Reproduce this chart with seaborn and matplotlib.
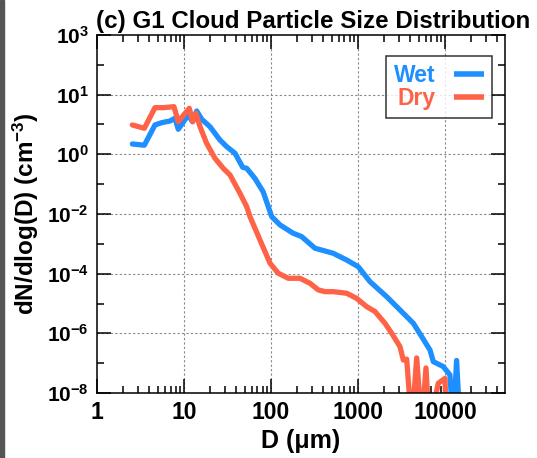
import numpy as np
import pandas as pd
import seaborn as sns
import matplotlib.pyplot as plt
from matplotlib.patches import Rectangle

# wet-case cloud particle size distribution (G1)
wet_d = [2.55, 3.5, 4.64, 5.54, 6.9, 7.88, 8.6, 11.2, 12.5, 14.0, 16.0, 19.9, 25.9,
         31.0, 38.6, 47.3, 52.6, 65.5, 81.5, 102, 127, 180, 225, 321, 418, 520, 741,
         1007, 1374, 2138, 3041, 4325, 5400, 6725, 7350, 9550, 11400, 12450, 13600, 14900]
wet_n = [0.448, 0.41, 1.72, 2.02, 2.28, 2.76, 1.27, 3.48, 2.17, 4.62, 2.57, 1.52, 0.594,
         0.37, 0.232, 0.086, 0.08, 0.039, 0.015, 2.62e-3, 1.46e-3, 8.1e-4, 6.4e-4, 2.8e-4,
         2.31e-4, 1.96e-4, 1.22e-4, 7.6e-5, 2.64e-5, 9.1e-6, 3.56e-6, 1.39e-6, 5.4e-7,
         2.1e-7, 9.2e-8, 6.5e-8, 3.6e-8, 1e-9, 1.0e-7, 1e-9]

# dry-case
dry_d = [2.55, 3.5, 4.64, 5.78, 7.67, 8.6, 11.5, 12.6, 13.7, 15.3, 18.2, 22.7, 28.3,
         33.8, 44.0, 52.6, 57.4, 74.8, 97.5, 121, 158, 215, 281, 350, 418, 520, 741,
         965, 1258, 1567, 2042, 2438, 3041, 3320, 3630, 4140, 4730, 5400, 6050, 6600,
         8380, 10000, 10450]
dry_n = [1.72, 1.36, 5.85, 5.85, 6.27, 2.17, 5.6, 2.17, 3.93, 1.52, 0.47, 0.163, 0.080,
         0.05, 0.0137, 5.3e-3, 2.62e-3, 5.0e-4, 9.7e-5, 4.8e-5, 3.35e-5, 3.35e-5, 2.35e-5,
         1.47e-5, 1.3e-5, 1.3e-5, 1.16e-5, 8.1e-6, 4.5e-6, 3.2e-6, 1.39e-6, 6.9e-7, 2.65e-7,
         1.03e-7, 1.1e-7, 1e-9, 1.2e-7, 1e-9, 5.9e-8, 1e-9, 2.0e-8, 2.8e-8, 1e-9]

# IDL-style log axis: 6 intervals over 11 decades, labels truncated
ytick_labels = ['3', '1', '0', '-2', '-4', '-6', '-8']
xtick_vals = [1, 10, 100, 1000, 10000]

df = pd.concat([
    pd.DataFrame({'D': wet_d, 'N': wet_n, 'case': 'Wet'}),
    pd.DataFrame({'D': dry_d, 'N': dry_n, 'case': 'Dry'}),
])

sns.set_style('ticks')
plt.rcParams['font.family'] = ['Liberation Sans', 'DejaVu Sans']
plt.rcParams['font.weight'] = 'bold'
plt.rcParams['mathtext.fontset'] = 'custom'
plt.rcParams['mathtext.rm'] = 'Liberation Sans:bold'
plt.rcParams['mathtext.bf'] = 'Liberation Sans:bold'
plt.rcParams['mathtext.it'] = 'Liberation Sans:bold'
for k in ['text.color', 'axes.labelcolor', 'xtick.color', 'ytick.color',
          'xtick.labelcolor', 'ytick.labelcolor']:
    plt.rcParams[k] = 'black'

colors = {'Wet': '#1E8FFF', 'Dry': '#FF6347'}

fig = plt.figure(figsize=(5.37, 4.58), dpi=100)
ax = fig.add_axes([0.1806, 0.1419, 0.7598, 0.7817])
fig.patches.append(Rectangle((0, 0), 0.007, 1, transform=fig.transFigure,
                             color='#555555', zorder=10))

sns.lineplot(data=df, x='D', y='N', hue='case', hue_order=['Wet', 'Dry'],
             palette=colors, estimator=None, sort=False, linewidth=3.8, ax=ax)

ax.set_xscale('log')
ax.set_yscale('log')
ax.set_xlim(1, 10 ** 4.69)
ax.set_ylim(1e-8, 1e3)

ypos = [10 ** (3 - k * 11 / 6) for k in range(7)]
ax.set_yticks(ypos)
ax.set_yticklabels([r'$10^{%s}$' % s for s in ytick_labels])
ax.set_yticks([10 ** (3 - (k + 0.5) * 11 / 6) for k in range(6)], minor=True)
ax.set_xticks(xtick_vals)
ax.set_xticklabels([str(v) for v in xtick_vals])
ax.set_xticks([m * 10 ** e for e in range(5) for m in range(2, 10)
               if m * 10 ** e < 10 ** 4.69], minor=True)
ax.xaxis.set_minor_formatter(plt.NullFormatter())
ax.yaxis.set_minor_formatter(plt.NullFormatter())

ax.tick_params(which='both', direction='in', top=True, right=True, width=1.1,
               color='black')
ax.tick_params(axis='y', labelsize=15)
ax.tick_params(axis='x', labelsize=16.5)
ax.tick_params(which='major', length=10, pad=6)
ax.tick_params(which='minor', length=5)
for s in ax.spines.values():
    s.set_linewidth(1.1)
    s.set_color('black')

for v in xtick_vals[1:]:
    ax.axvline(v, color='#888888', lw=0.8, ls=(0, (2, 2)), zorder=0)
for v in ypos[1:-1]:
    ax.axhline(v, color='#888888', lw=0.8, ls=(0, (2, 2)), zorder=0)

ax.set_xlabel('D (\u03bcm)', fontsize=18, fontweight='bold', labelpad=3)
ax.set_ylabel(r'dN/dlog(D) (cm$^{-3}$)', fontsize=17.5, fontweight='bold', labelpad=4)
ax.set_title('(c) G1 Cloud Particle Size Distribution', fontsize=17.4,
             fontweight='bold', x=0.53, pad=5)

leg = ax.legend(loc='upper right', bbox_to_anchor=(0.968, 0.941), borderaxespad=0,
                markerfirst=False, labelcolor='linecolor', fontsize=16.5, frameon=True,
                fancybox=False, handlelength=1.3, handletextpad=0.8, borderpad=0.35,
                labelspacing=0.0)
leg.get_frame().set_edgecolor('black')
leg.get_frame().set_linewidth(1.1)
for t in leg.get_texts():
    t.set_fontweight('bold')
for h in leg.get_lines():
    h.set_linewidth(4)
    h.set_solid_capstyle('butt')

fig.savefig('out.png', dpi=100)
